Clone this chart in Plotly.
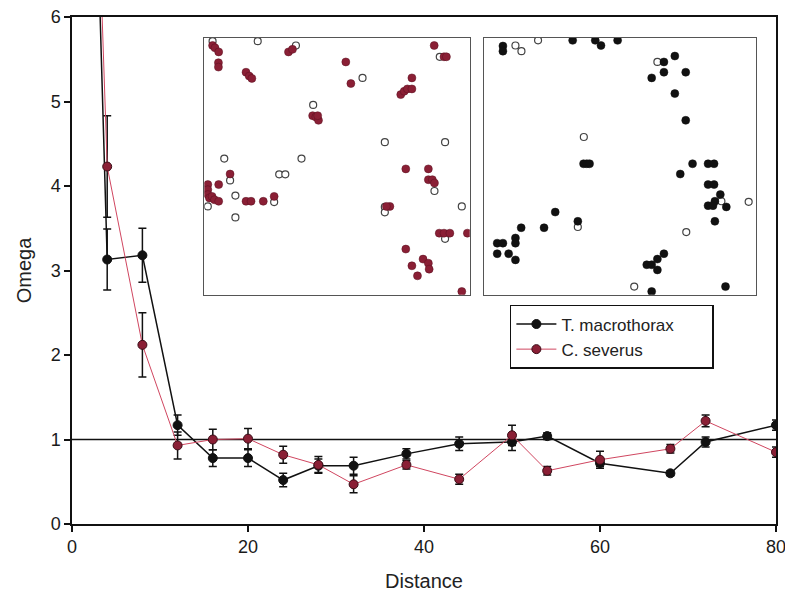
import plotly.graph_objects as go

# ---- main series ----
distance = [2, 4, 8, 12, 16, 20, 24, 28, 32, 38, 44, 50, 54, 60, 68, 72, 80]
t_macro = [10.3, 3.13, 3.18, 1.17, 0.78, 0.78, 0.52, 0.69, 0.69, 0.83, 0.95, 0.97, 1.04, 0.72, 0.60, 0.97, 1.17]
t_macro_err = [0, 0.36, 0.32, 0.12, 0.10, 0.10, 0.08, 0.08, 0.10, 0.06, 0.08, 0.10, 0.04, 0.04, 0.03, 0.06, 0.06]
c_sev = [10.4, 4.23, 2.12, 0.93, 1.00, 1.01, 0.82, 0.70, 0.47, 0.70, 0.53, 1.05, 0.63, 0.76, 0.89, 1.22, 0.85]
c_sev_err = [0, 0.60, 0.38, 0.16, 0.12, 0.12, 0.10, 0.10, 0.10, 0.05, 0.06, 0.12, 0.05, 0.10, 0.05, 0.07, 0.06]
ref_x = [0, 80]
ref_y = [1, 1]

# ---- left inset (C. severus map) ----
sev_fill_x = [3.1, 4.0, 5.4, 5.3, 5.3, 15.7, 16.9, 17.9, 31.7, 33.2, 53.3, 55.2, 86.6, 90.3, 91.2,
              78.2, 74.0, 75.3, 76.5, 78.2, 40.8, 42.0, 43.0, 42.7, 75.9, 84.4, 84.4, 85.9, 86.7,
              9.7, 1.3, 1.3, 1.3, 1.9, 2.9, 3.8, 5.4, 5.4, 15.7, 17.6, 22.2, 26.3, 69.9, 68.6,
              88.5, 90.3, 92.5, 99.1, 75.9, 82.4, 84.4, 84.7, 78.2, 80.3, 97.0]
sev_fill_y = [97.0, 96.1, 94.5, 90.3, 88.6, 86.6, 85.1, 84.2, 94.5, 95.5, 90.6, 82.2, 97.0, 92.6, 92.6,
              84.4, 77.9, 79.2, 80.1, 80.1, 69.7, 69.2, 67.9, 69.7, 49.0, 49.0, 44.8, 44.8, 43.5,
              47.0, 42.9, 40.9, 39.0, 37.7, 38.3, 37.0, 36.4, 42.9, 36.4, 36.4, 36.4, 38.3, 34.4, 34.4,
              24.0, 24.0, 24.0, 24.0, 17.8, 13.9, 12.3, 10.0, 11.3, 7.4, 1.3]
sev_open_x = [3.1, 20.1, 34.5, 59.6, 88.7, 41.0, 68.0, 90.7, 7.5, 36.6, 86.7, 9.7, 28.2, 30.5,
              1.3, 11.7, 26.3, 11.7, 68.0, 68.0, 97.0, 90.7]
sev_open_y = [98.7, 98.7, 97.0, 84.4, 92.6, 73.9, 59.4, 59.4, 53.0, 53.0, 40.4, 44.5, 46.9, 46.9,
              34.4, 38.6, 36.1, 30.1, 34.2, 32.1, 34.4, 21.8]

# ---- right inset (T. macrothorax map) ----
mac_fill_x = [7.0, 7.0, 32.6, 40.9, 43.0, 49.1, 70.1, 66.1, 66.1, 61.6, 74.1, 70.1, 74.1, 36.6, 37.8,
              38.8, 76.6, 82.3, 84.5, 72.1, 82.3, 84.5, 86.8, 84.8, 82.3, 84.1, 89.0, 26.2, 13.7,
              22.1, 34.5, 4.9, 7.0, 11.6, 11.6, 4.9, 9.1, 11.6, 84.8, 66.1, 63.7, 59.8, 61.6, 63.7,
              61.6, 88.7]
mac_fill_y = [96.8, 94.8, 99.0, 99.0, 97.0, 99.0, 92.9, 90.6, 86.6, 84.4, 86.6, 78.3, 67.9, 51.0, 51.0,
              51.0, 51.0, 51.0, 51.0, 47.0, 42.9, 42.9, 39.0, 36.4, 34.7, 34.7, 34.2, 32.2, 26.1,
              26.1, 28.6, 20.1, 20.1, 22.1, 20.1, 16.0, 16.0, 13.6, 28.6, 16.0, 13.9, 11.7, 11.7, 9.7,
              1.3, 3.2]
mac_open_x = [11.6, 13.8, 19.9, 63.7, 36.7, 87.2, 97.2, 34.5, 74.3, 55.2]
mac_open_y = [97.0, 94.8, 99.0, 90.6, 61.4, 36.4, 36.2, 26.4, 24.4, 3.2]

BLACK = "#111111"
MAROON = "#8a1f35"
PINK = "#d04660"
FONT = "Liberation Sans, Arial, sans-serif"

fig = go.Figure()

fig.add_trace(go.Scatter(x=ref_x, y=ref_y, mode="lines", line=dict(color=BLACK, width=1.5),
                         showlegend=False, hoverinfo="skip"))

fig.add_trace(go.Scatter(
    x=distance, y=t_macro, name="T. macrothorax\u00a0\u00a0\u00a0\u00a0\u00a0\u00a0\u00a0", mode="lines+markers",
    line=dict(color=BLACK, width=1.5),
    marker=dict(color=BLACK, size=9, line=dict(color=BLACK, width=1)),
    error_y=dict(type="data", array=t_macro_err, color=BLACK, thickness=1.5, width=4),
))
fig.add_trace(go.Scatter(
    x=distance, y=c_sev, name="C. severus", mode="lines+markers",
    line=dict(color=PINK, width=1),
    marker=dict(color=MAROON, size=9, line=dict(color="#3a0c16", width=1)),
    error_y=dict(type="data", array=c_sev_err, color=BLACK, thickness=1.5, width=4),
))

# insets
fig.add_trace(go.Scatter(x=sev_open_x, y=sev_open_y, xaxis="x2", yaxis="y2", mode="markers",
                         marker=dict(color="white", size=7, line=dict(color="#444444", width=1.2)),
                         showlegend=False))
fig.add_trace(go.Scatter(x=sev_fill_x, y=sev_fill_y, xaxis="x2", yaxis="y2", mode="markers",
                         marker=dict(color=MAROON, size=8, line=dict(color="#5a1020", width=0.5)),
                         showlegend=False))
fig.add_trace(go.Scatter(x=mac_open_x, y=mac_open_y, xaxis="x3", yaxis="y3", mode="markers",
                         marker=dict(color="white", size=7, line=dict(color="#444444", width=1.2)),
                         showlegend=False))
fig.add_trace(go.Scatter(x=mac_fill_x, y=mac_fill_y, xaxis="x3", yaxis="y3", mode="markers",
                         marker=dict(color=BLACK, size=8, line=dict(color=BLACK, width=0.5)),
                         showlegend=False))

inset_ax = dict(range=[0, 100], showgrid=False, zeroline=False, showticklabels=False, ticks="",
                showline=True, mirror=True, linecolor="#555555", linewidth=1.2, fixedrange=True)

fig.update_layout(
    width=785, height=601,
    margin=dict(l=72, r=7, t=17, b=77),
    paper_bgcolor="white", plot_bgcolor="white",
    font=dict(family=FONT, color="#222222"),
    xaxis=dict(range=[0, 80], tickvals=[0, 20, 40, 60, 80], showgrid=False, zeroline=False,
               showline=True, mirror=True, linecolor=BLACK, linewidth=1.5,
               ticks="outside", ticklen=6, tickwidth=1.5, tickcolor=BLACK,
               ticklabeloverflow="allow", automargin=False,
               tickfont=dict(size=18, color="#1a1a1a"),
               title=dict(text="Distance", font=dict(size=20), standoff=18)),
    yaxis=dict(range=[0, 6], tickvals=[0, 1, 2, 3, 4, 5, 6], showgrid=False, zeroline=False,
               showline=True, mirror=True, linecolor=BLACK, linewidth=1.5,
               ticks="outside", ticklen=6, tickwidth=1.5, tickcolor=BLACK,
               tickfont=dict(size=18, color="#1a1a1a"),
               title=dict(text="Omega", font=dict(size=20), standoff=14)),
    xaxis2=dict(domain=[0.188, 0.565], anchor="y2", **inset_ax),
    yaxis2=dict(domain=[0.452, 0.959], anchor="x2", **inset_ax),
    xaxis3=dict(domain=[0.585, 0.972], anchor="y3", **inset_ax),
    yaxis3=dict(domain=[0.452, 0.959], anchor="x3", **inset_ax),
    legend=dict(x=0.622, y=0.432, xanchor="left", yanchor="top", bgcolor="white",
                bordercolor=BLACK, borderwidth=1.5, font=dict(size=17, color="#222222"),
                tracegroupgap=0, itemwidth=40),
    showlegend=True,
)

fig.write_html("out.html", config={"displayModeBar": False},
               post_script="document.body.style.margin='0';document.body.style.overflow='hidden';")
